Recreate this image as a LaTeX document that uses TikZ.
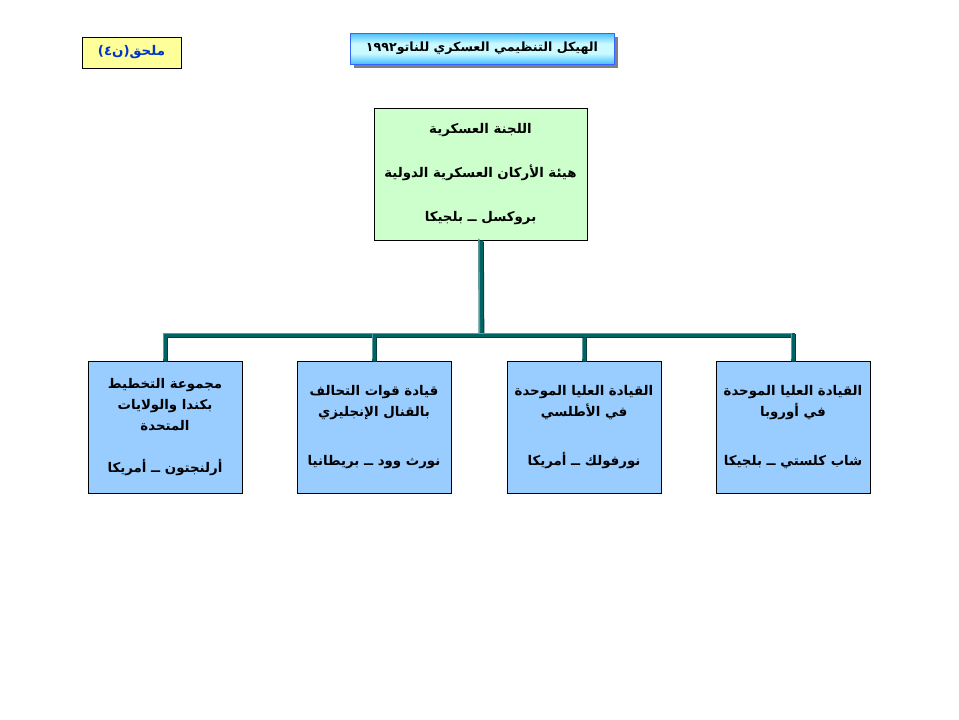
\documentclass[tikz,border=0pt]{standalone}
\usepackage{fontspec}
\TeXXeTstate=1
\newfontfamily\arabicfont[Script=Arabic]{DejaVu Sans}
\newcommand{\artxt}[1]{\beginR #1\endR}
\definecolor{boxblue}{RGB}{153,204,255}
\definecolor{boxgreen}{RGB}{204,255,204}
\definecolor{notey}{RGB}{255,255,153}
\definecolor{teal1}{RGB}{0,100,100}
\definecolor{teal2}{RGB}{0,60,60}
\definecolor{teal3}{RGB}{95,155,155}
\definecolor{tblue}{RGB}{70,190,255}
\definecolor{tcyan}{RGB}{200,250,255}
\definecolor{tborder}{RGB}{51,102,255}
\definecolor{notetext}{RGB}{0,51,204}
\pgfdeclareverticalshading{titleshade}{100bp}{color(0bp)=(tblue); color(25bp)=(tblue); color(42bp)=(tcyan); color(58bp)=(tcyan); color(75bp)=(tblue); color(100bp)=(tblue)}
\tikzset{
  arfont/.style={font=\arabicfont\bfseries\fontsize{10}{15.75}\selectfont},
  orgbox/.style={draw=black, line width=0.75pt, arfont, align=center,
    minimum width=115.5pt, minimum height=99pt, inner sep=2pt},
  topbox/.style={orgbox, fill=boxgreen, minimum width=159.75pt},
  subbox/.style={orgbox, fill=boxblue},
  titlebox/.style={draw=tborder, line width=0.75pt, shade, shading=titleshade,
    minimum width=198pt, minimum height=23.25pt, font=\arabicfont\bfseries\fontsize{9.5}{12}\selectfont,
    preaction={fill=black!50, transform canvas={shift={(3pt,-3pt)}}}},
  notebox/.style={draw=black, line width=0.75pt, fill=notey, text=notetext,
    minimum width=74.25pt, minimum height=23.25pt, arfont},
  conn/.style={draw=teal1, line width=3.4pt, line cap=butt,
    preaction={draw=teal2, line width=3.4pt, transform canvas={shift={(0.8pt,-0.8pt)}}},
    postaction={draw=teal3, line width=1pt, transform canvas={shift={(-1.2pt,1.2pt)}}}}
}
\begin{document}
\begin{tikzpicture}[x=0.75pt,y=-0.75pt]
\useasboundingbox[fill=white] (0,0) rectangle (959,719);

\node[notebox] (note) at (131.5,52.5) {\artxt{ملحق(ن\beginL ٤\endL)}};
\node[titlebox] (title) at (482,48.5) {\artxt{الهيكل التنظيمي العسكري للناتو\beginL ١٩٩٢\endL}};

\node[topbox] (top) at (480.5,174) {\artxt{اللجنة العسكرية}\\[17.25pt]\artxt{هيئة الأركان العسكرية الدولية}\\[17.25pt]\artxt{بروكسل ــ بلجيكا}};

\node[subbox] (b1) at (165,427) {\artxt{مجموعة التخطيط}\\\artxt{بكندا والولايات}\\\artxt{المتحدة}\\[15.75pt]\artxt{أرلنجتون ــ أمريكا}};
\node[subbox] (b2) at (374,427) {\artxt{قيادة قوات التحالف}\\\artxt{بالقنال الإنجليزي}\\[21pt]\artxt{نورث وود ــ بريطانيا}};
\node[subbox] (b3) at (584,427) {\artxt{القيادة العليا الموحدة}\\\artxt{في الأطلسي}\\[21pt]\artxt{نورفولك ــ أمريكا}};
\node[subbox] (b4) at (793,427) {\artxt{القيادة العليا الموحدة}\\\artxt{في أوروبا}\\[21pt]\artxt{شاب كلستي ــ بلجيكا}};

\coordinate (j) at (481,335);
\draw[conn] (top.south) -- (j);
\draw[conn] (j) -| (b1.north);
\draw[conn] (j) -| (b2.north);
\draw[conn] (j) -| (b3.north);
\draw[conn] (j) -| (b4.north);
\end{tikzpicture}
\end{document}
